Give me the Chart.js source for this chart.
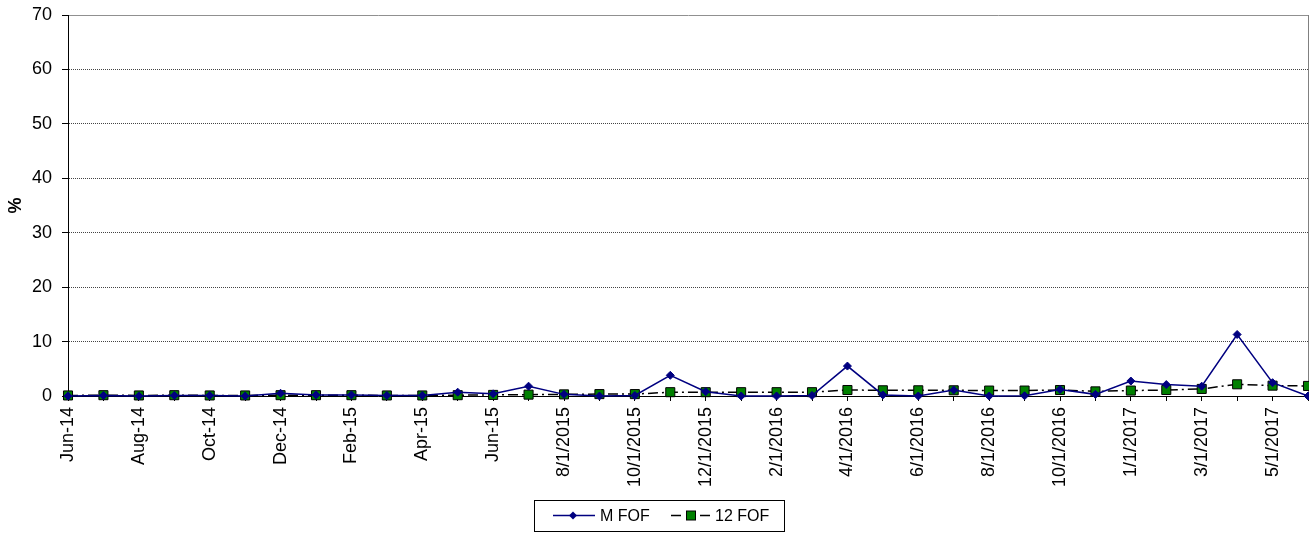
<!DOCTYPE html>
<html>
<head>
<meta charset="utf-8">
<script src="https://cdn.jsdelivr.net/npm/chart.js@4"></script>
<style>
html,body{margin:0;padding:0;background:#fff;}
#wrap{width:1309px;height:534px;}
</style>
</head>
<body>
<div id="wrap"><canvas id="c" width="1309" height="534"></canvas></div>
<script>
const categories = ["Jun-14","Jul-14","Aug-14","Sep-14","Oct-14","Nov-14","Dec-14","Jan-15","Feb-15","Mar-15","Apr-15","May-15","Jun-15","7/1/2015","8/1/2015","9/1/2015","10/1/2015","11/1/2015","12/1/2015","1/1/2016","2/1/2016","3/1/2016","4/1/2016","5/1/2016","6/1/2016","7/1/2016","8/1/2016","9/1/2016","10/1/2016","11/1/2016","1/1/2017","2/1/2017","3/1/2017","4/1/2017","5/1/2017","6/1/2017"];
const mFof = [0,0.1,0,0.1,0.1,0,0.5,0.2,0.2,0.1,0.1,0.7,0.4,1.8,0.3,0,0.1,3.8,0.8,0,0,0.1,5.5,0.2,0,1.1,0,0.05,1.2,0.3,2.75,2.1,1.8,11.3,2.45,0];
const twelveFof = [0.1,0.15,0.1,0.15,0.1,0.1,0.15,0.15,0.15,0.1,0.1,0.15,0.2,0.25,0.3,0.35,0.35,0.7,0.7,0.7,0.7,0.7,1.1,1.05,1.05,1.05,1.0,1.0,1.1,0.85,1.0,1.1,1.3,2.15,1.9,1.85];
const seriesNames = ["M FOF","12 FOF"];
const yTicks = {min:0, max:70, step:10};

const FONT = "'Liberation Sans', Arial, sans-serif";
const zeroPad = () => ({left: 0, top: 0, right: 0, bottom: 0});

const legendPlugin = {
  id: 'boxLegend',
  afterDraw(chart) {
    const ctx = chart.ctx;
    const ds = chart.data.datasets;
    const bx = 534.5, by = 500.5, bw = 250, bh = 31;
    const cy = 515.5;
    ctx.save();
    ctx.strokeStyle = '#000';
    ctx.lineWidth = 1;
    ctx.strokeRect(bx, by, bw, bh);
    ctx.font = '16px ' + FONT;
    ctx.fillStyle = '#000';
    ctx.textBaseline = 'middle';
    ctx.strokeStyle = ds[0].borderColor;
    ctx.lineWidth = 1.5;
    ctx.beginPath(); ctx.moveTo(553, cy); ctx.lineTo(595, cy); ctx.stroke();
    ctx.fillStyle = ds[0].pointBackgroundColor;
    ctx.beginPath(); ctx.moveTo(573-4, cy); ctx.lineTo(573, cy-4); ctx.lineTo(573+4, cy); ctx.lineTo(573, cy+4); ctx.closePath(); ctx.fill();
    ctx.fillStyle = '#000';
    ctx.fillText(ds[0].label, 600, cy+1);
    ctx.strokeStyle = '#000';
    ctx.lineWidth = 1.5;
    ctx.beginPath(); ctx.moveTo(671, cy); ctx.lineTo(681, cy); ctx.moveTo(700, cy); ctx.lineTo(710, cy); ctx.stroke();
    ctx.fillStyle = ds[1].pointBackgroundColor;
    ctx.fillRect(686.5, cy-4.5, 9, 9);
    ctx.lineWidth = 1;
    ctx.strokeRect(686.5, cy-4.5, 9, 9);
    ctx.fillStyle = '#000';
    ctx.fillText(ds[1].label, 715, cy+1);
    ctx.restore();
  }
};

new Chart(document.getElementById('c'), {
  type: 'line',
  data: {
    labels: categories,
    datasets: [
      {
        label: seriesNames[0],
        data: mFof,
        borderColor: '#000080',
        borderWidth: 1.5,
        pointStyle: 'rectRot',
        pointRadius: 4,
        pointBackgroundColor: '#000080',
        pointBorderColor: '#000080',
        pointBorderWidth: 1,
        tension: 0,
        clip: false
      },
      {
        label: seriesNames[1],
        data: twelveFof,
        borderColor: '#000000',
        borderWidth: 1.5,
        borderDash: [10, 4, 2, 4],
        pointStyle: 'rect',
        pointRadius: 6.4,
        pointBackgroundColor: '#008000',
        pointBorderColor: '#000000',
        pointBorderWidth: 1,
        tension: 0,
        clip: false
      }
    ]
  },
  options: {
    responsive: false,
    animation: false,
    devicePixelRatio: 1,
    layout: { autoPadding: false, padding: { left: 0, right: 1, top: 15, bottom: 0 } },
    plugins: {
      legend: { display: false },
      tooltip: { enabled: false }
    },
    scales: {
      x: {
        offset: false,
        grid: {
          display: true,
          drawOnChartArea: true,
          color: (c) => (c.index === categories.length - 1 ? '#808080' : 'rgba(0,0,0,0)'),
          tickColor: '#000',
          tickLength: 5,
          lineWidth: 1
        },
        border: { display: true, color: '#000', width: 1 },
        ticks: {
          autoSkip: false,
          maxRotation: 90,
          minRotation: 90,
          padding: 6,
          color: '#000',
          font: { family: FONT, size: 18 },
          callback: function(v, i) { return i % 2 === 0 ? categories[i] : ''; }
        },
        afterFit: (s) => { s.height = 138; s.paddingLeft = 0; s.paddingRight = 0; s.getPadding = zeroPad; }
      },
      y: {
        min: yTicks.min,
        max: yTicks.max,
        ticks: {
          stepSize: yTicks.step,
          padding: 10,
          color: '#000',
          font: { family: FONT, size: 18 }
        },
        grid: {
          color: (c) => (c.tick && c.tick.value === yTicks.max ? '#909090' : '#444'),
          lineWidth: 1,
          tickColor: '#000',
          tickLength: 6,
          tickBorderDash: []
        },
        border: {
          display: true,
          color: '#000',
          width: 1,
          dash: (c) => (c.tick && c.tick.value === yTicks.max ? [] : [1, 1])
        },
        title: {
          display: true,
          text: '%',
          color: '#000',
          font: { family: FONT, size: 18, weight: 'bold' },
          padding: { top: 5, bottom: 0 }
        },
        afterFit: (s) => { s.width = 68; s.paddingTop = 0; s.paddingBottom = 0; s.getPadding = zeroPad; }
      }
    }
  },
  plugins: [legendPlugin]
});
</script>
</body>
</html>
